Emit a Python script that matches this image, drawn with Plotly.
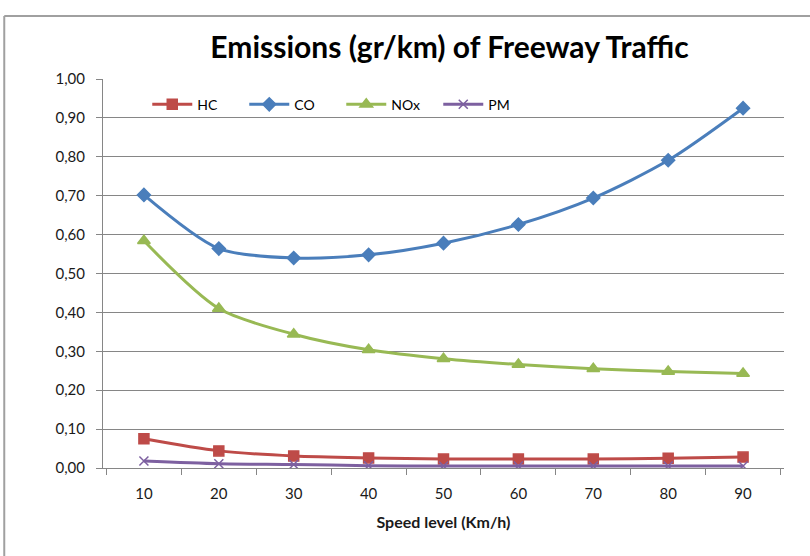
import plotly.graph_objects as go

# Speed levels (km/h) and emission factors (gr/km)
speeds = ["10", "20", "30", "40", "50", "60", "70", "80", "90"]
hc = [0.075, 0.044, 0.031, 0.026, 0.023, 0.023, 0.023, 0.025, 0.028]
co = [0.702, 0.564, 0.540, 0.548, 0.578, 0.626, 0.694, 0.791, 0.925]
nox = [0.584, 0.410, 0.344, 0.304, 0.281, 0.266, 0.255, 0.248, 0.243]
pm = [0.018, 0.011, 0.009, 0.006, 0.005, 0.005, 0.005, 0.005, 0.005]
y_ticks = [0.0, 0.1, 0.2, 0.3, 0.4, 0.5, 0.6, 0.7, 0.8, 0.9, 1.0]

series = [
    ("HC", hc, "#BE4B48", "square", 10),
    ("CO", co, "#4A7EBB", "diamond", 10),
    ("NOx", nox, "#98B954", "triangle-up", 11),
    ("PM", pm, "#7D60A0", "x-thin-open", 9),
]

fig = go.Figure()
for name, vals, color, symbol, size in series:
    fig.add_trace(go.Scatter(
        x=speeds, y=vals, name=name, mode="lines+markers",
        line=dict(color=color, width=3, shape="spline", smoothing=0.8),
        marker=dict(symbol=symbol, size=size, color=color,
                    line=dict(color=color, width=1.5)),
    ))

fig.update_layout(
    width=810, height=556,
    margin=dict(l=103, r=26, t=79, b=88),
    paper_bgcolor="white", plot_bgcolor="white",
    separators=",.",
    font=dict(family="Lato, Open Sans, sans-serif", size=15, color="#1a1a1a"),
    title=dict(text="<b>Emissions (gr/km) of Freeway Traffic</b>",
               x=0.555, xanchor="center", y=0.915, yanchor="middle",
               font=dict(family="Lato, Open Sans, sans-serif", size=30, color="#000000")),
    showlegend=True,
    legend=dict(orientation="h", x=0.065, y=0.975, xanchor="left", yanchor="top",
                bgcolor="rgba(0,0,0,0)", font=dict(size=14, color="#000000"),
                itemwidth=40, tracegroupgap=0, entrywidthmode="pixels", entrywidth=42),
    xaxis=dict(
        type="category", tickson="boundaries", ticks="outside", ticklen=6,
        tickcolor="#868686", showline=True, linecolor="#868686", linewidth=1,
        showgrid=False, tickfont=dict(size=15), ticklabelstandoff=12,
        title=dict(text="<b>Speed level (Km/h)</b>", font=dict(size=16), standoff=15),
    ),
    yaxis=dict(
        range=[0, 1.0], tickvals=y_ticks, tickformat=".2f", ticks="outside",
        ticklen=6, tickcolor="#868686", showline=True, linecolor="#868686",
        linewidth=1, showgrid=True, gridcolor="#868686", gridwidth=1,
        zeroline=False, tickfont=dict(size=15), ticklabelstandoff=8,
    ),
    shapes=[
        dict(type="line", xref="paper", yref="paper", x0=-0.145, x1=1.2,
             y0=1.162, y1=1.162, line=dict(color="#A0A0A0", width=2)),
        dict(type="line", xref="paper", yref="paper", x0=-0.145, x1=-0.145,
             y0=1.162, y1=-0.3, line=dict(color="#A0A0A0", width=2)),
    ],
)

fig.write_html("out.html")
